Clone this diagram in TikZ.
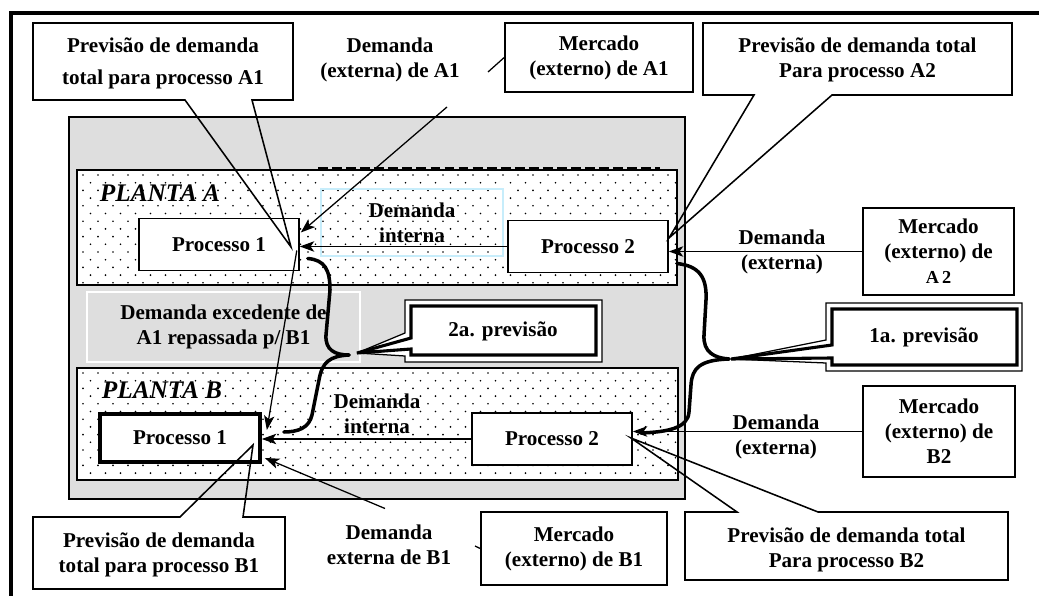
\documentclass[tikz,border=0pt]{standalone}
\usepackage{fontspec}
\setmainfont{Liberation Serif}
\usetikzlibrary{arrows.meta, calc}
\tikzstyle{arrow} = [line width=0.9pt,-{Stealth[length=3.6mm,width=2.6mm,inset=0.9mm]}]
\tikzstyle{linha} = [line width=0.9pt]
\tikzstyle{proc} = [rectangle, draw=black, fill=white, line width=1.1pt, minimum width=4cm, minimum height=1.3cm, font=\bfseries\fontsize{15}{17.8}\selectfont]
\tikzstyle{box} = [rectangle, draw=black, fill=white, line width=1.1pt, align=center, font=\bfseries\fontsize{15}{17.8}\selectfont]
\tikzstyle{txt} = [align=center, font=\bfseries\fontsize{15}{17.8}\selectfont]
\tikzstyle{plantalbl} = [font=\bfseries\itshape\fontsize{18}{20}\selectfont]
\tikzstyle{planta} = [draw=black, line width=1.1pt]
\tikzstyle{brace} = [line width=2.5pt, line cap=round]
\tikzstyle{balao} = [draw=black, line width=1.1pt, line join=miter]

\begin{document}
\begin{tikzpicture}[x=0.025cm,y=-0.025cm]
	\useasboundingbox (0,0) rectangle (1039,596);
	\draw[line width=2.8pt] (11,596) -- (11,13) -- (1039,13);
	\draw[line width=1.1pt, fill=black!13] (69,117) rectangle (685,499);
	\fill[white] (77,170) rectangle (677,285);
	\fill[white] (77,368) rectangle (678,480);
	\foreach \ya/\yb in {170/285, 368/480} {
		\begin{scope}
			\clip (77,\ya) rectangle (678,\yb);
			\foreach \r in {0,...,14}
				\foreach \c in {0,...,40}
					\fill ({83+15*\c+7.5*mod(\r,2)},{\ya+5+7.7*\r}) circle (0.65pt);
		\end{scope}
	}
	\draw[planta] (77,170) rectangle (677,285);
	\draw[planta] (77,368) rectangle (678,480);
	\draw[line width=1.5pt, dash pattern=on 7pt off 3pt] (318,168.5) -- (660,168.5);

	\node (exced) [txt, draw=white, line width=1.2pt, minimum width=6.825cm, minimum height=1.75cm] at (223.5,327) {Demanda excedente de\\A1 repassada p/ B1};
	\node (intA) [txt, draw=cyan!22, line width=0.8pt, minimum width=4.55cm, minimum height=1.675cm] at (412,222.5) {Demanda\\interna};
	\node (plA) [plantalbl] at (160,193) {PLANTA A};
	\node (plB) [plantalbl] at (162,390) {PLANTA B};

	\node (p1a) [proc] at (219,244.5) {Processo 1\hspace{0.5cm}};
	\node (p2a) [proc] at (588,246.5) {Processo 2\hspace{0.5cm}};
	\node (p1b) [proc, line width=2.6pt, minimum height=1.2cm] at (180,438) {Processo 1\hspace{0.5cm}};
	\node (p2b) [proc] at (552,439) {Processo 2\hspace{0.5cm}};

	\node (mA1) [box, minimum width=4.7cm, minimum height=1.725cm] at (599,57.5) {Mercado\\(externo) de A1};
	\node (mA2) [box, minimum width=3.775cm, minimum height=2.175cm] at (938.5,251.5) {Mercado\\(externo) de\\{\fontsize{13}{15}\selectfont A\,2}};
	\node (mB2) [box, minimum width=3.8cm, minimum height=2.275cm] at (939,431.5) {Mercado\\(externo) de\\B2};
	\node (mB1) [box, minimum width=4.65cm, minimum height=1.825cm] at (574,548.5) {Mercado\\(externo) de B1};

	\node (dextA1) [txt] at (390,60) {Demanda\\(externa) de A1};
	\node (dextB1) [txt] at (389,545) {Demanda\\externa de B1};
	\node (dextA2) [txt] at (782,252) {Demanda\\(externa)};
	\node (dextB2) [txt] at (776,437) {Demanda\\(externa)};
	\node (dintB) [txt] at (377,414) {Demanda\\interna};

	\coordinate (extA1a) at (488,72);
	\coordinate (extA1b) at (447,107);
	\coordinate (extB1a) at (475,546);
	\coordinate (extB1b) at (385,508.5);
	\draw [linha] (mA1.west) -- (extA1a);
	\draw [arrow] (extA1b) -- ([shift={(1,-12)}]p1a.east);
	\draw [linha] (mB1.west) -- (extB1a);
	\draw [arrow] (extB1b) -- ([shift={(3,20)}]p1b.east);
	\draw [arrow] (p2a.west) -- (p2a.west -| p1a.east);
	\draw [arrow] (mA2.west) -- (mA2.west -| p2a.east);
	\draw [arrow] (p2b.west) -- (p2b.west -| p1b.east);
	\draw [arrow] (mB2.west) -- (mB2.west -| p2b.east);
	\draw [arrow] ([shift={(-3,6)}]p1a.east) -- ([shift={(5,-8)}]p1b.east);

	\coordinate (tipA1) at (291,247);
	\coordinate (tipA2) at (669,238);
	\coordinate (tipB1) at (253,445);
	\coordinate (tipB2) at (631,438);
	\coordinate (tip1a) at (731,359);
	\coordinate (tip2a) at (357,353);
	\coordinate (brc1a) at (729,359);
	\coordinate (brc2a) at (349,355);

	\draw [balao] (33,23) -- (293,23) -- (293,100) -- (252,100) -- (tipA1) -- (185,100) -- (33,100) -- cycle;
	\draw [balao] (703,23) -- (1012,23) -- (1012,95) -- (832,95) -- (tipA2) -- (754,95) -- (703,95) -- cycle;
	\draw [balao] (33,517) -- (180,517) -- (tipB1) -- (243,517) -- (285,517) -- (285,589) -- (33,589) -- cycle;
	\draw [balao] (685,512) -- (737,512) -- (tipB2) -- (818,512) -- (1008,512) -- (1008,580) -- (685,580) -- cycle;
	\draw [balao, line width=0.9pt, fill=white, miter limit=3] (405,300) -- (602,300) -- (602,362) -- (405,362) -- (405,356) -- (tip2a) -- (405,333) -- cycle;
	\draw [balao, line width=2.2pt, miter limit=3] (411,306) -- (596,306) -- (596,355) -- (411,355) -- (411,349) -- (tip2a) -- (411,338) -- cycle;
	\draw [balao, line width=0.9pt, fill=white, miter limit=3] (826,303) -- (1022,303) -- (1022,371) -- (826,371) -- (826,363) -- (tip1a) -- (826,340) -- cycle;
	\draw [balao, line width=2.2pt, miter limit=3] (832,309) -- (1017,309) -- (1017,365) -- (832,365) -- (832,358) -- (tip1a) -- (832,345) -- cycle;

	\node (prevA1) [txt] at (163,63) {Previsão de demanda\\[5pt]total para processo A1};
	\node (prevA2) [txt] at (857.5,59.5) {Previsão de demanda total\\Para processo A2};
	\node (prevB1) [txt] at (159,555) {Previsão de demanda\\total para processo B1};
	\node (prevB2) [txt] at (846.5,550) {Previsão de demanda total\\Para processo B2};
	\node (prev1a) [txt] at (924,337) {1a. previsão};
	\node (prev2a) [txt] at (503,331) {2a. previsão};

	\draw [brace] ([shift={(8,17)}]p2a.east) .. controls (700,266) and (707,278) .. (706,300) -- (704,335) .. controls (703,352) and (714,358) .. (brc1a);
	\draw [brace] (brc1a) .. controls (700,360) and (692,368) .. (691,385) -- (689,412) .. controls (688,428) and (668,432) .. ([shift={(8,-6)}]p2b.east);
	\draw [brace] ([shift={(8,14)}]p1a.east) .. controls (325,260) and (330,270) .. (330,290) -- (326,335) .. controls (325,350) and (335,355) .. (brc2a);
	\draw [brace] (brc2a) .. controls (330,356) and (322,362) .. (319,380) -- (312,415) .. controls (309,428) and (298,432) .. ([shift={(22,-6)}]p1b.east);
\end{tikzpicture}
\end{document}
